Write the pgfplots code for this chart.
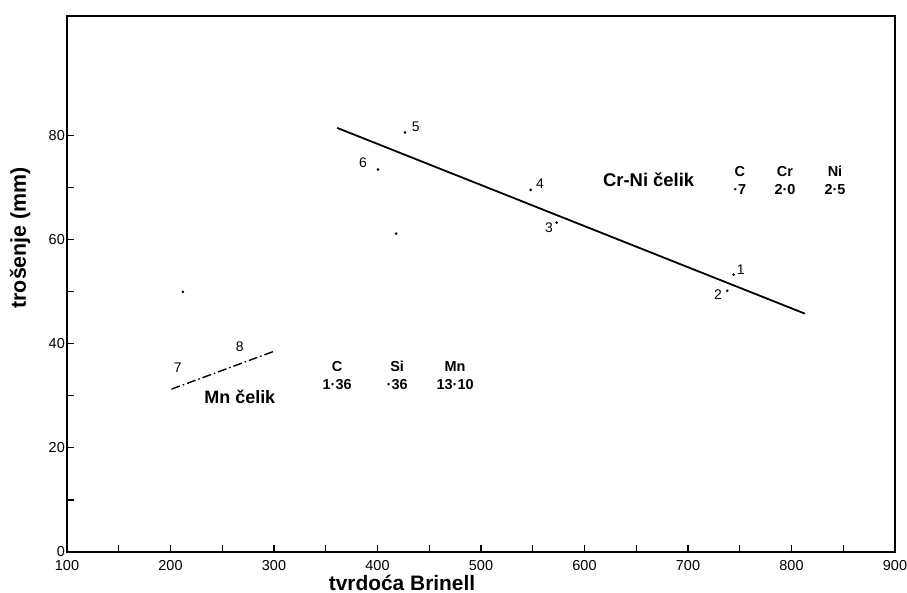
\documentclass[border=0pt]{standalone}
\usepackage{pgfplots}
\pgfplotsset{compat=1.18}
\usepackage{fontspec}
\setmainfont{Liberation Sans}

\begin{document}
\begin{tikzpicture}
\begin{axis}[
  scale only axis, width=828bp, height=536bp,
  xmin=100, xmax=900, ymin=0, ymax=103,
  xtick={100,200,...,900}, minor xtick={150,250,...,850},
  ytick={0,20,40,60,80}, minor ytick={10,30,50,70},
  tick align=inside, xtick pos=left, ytick pos=left,
  major tick length=7bp, minor tick length=7bp,
  axis line style={line width=1.8bp},
  every tick/.style={black, line width=1.1bp},
  tick label style={font=\fontsize{14.5}{14.5}\selectfont},
  /pgf/number format/assume math mode=true,
  /pgf/number format/1000 sep={},
  xticklabel style={inner sep=1bp, yshift=-7bp},
  yticklabel style={inner sep=2bp},
  clip=false,
]
% Cr-Ni celik: regression line and points
\addplot[black, line width=1.8bp] coordinates {(361,81.5) (813,45.8)};
% Mn celik
\addplot[black, line width=1.4bp, dash pattern=on 9bp off 3bp on 1.5bp off 3bp]
  coordinates {(201,31.3) (299,38.5)};
\addplot[only marks, mark=*, mark size=1.1bp, black] coordinates {
  (426.6,80.6) (400.5,73.5) (548,69.6) (573,63.3)
  (744,53.3) (738,50.2) (418,61.2) (212,50)
};

\begin{scope}[font=\fontsize{14}{14}\selectfont]
\node at (axis cs:437,81.7) {5};
\node at (axis cs:386,74.8) {6};
\node at (axis cs:557,70.8) {4};
\node at (axis cs:565.7,62.3) {3};
\node at (axis cs:751,54.2) {1};
\node at (axis cs:729,49.4) {2};
\node at (axis cs:207,35.4) {7};
\node at (axis cs:267,39.4) {8};
\end{scope}

\node[font=\bfseries\fontsize{18.5}{18.5}\selectfont] at (axis cs:662,71.5) {Cr-Ni čelik};
\node[font=\bfseries\fontsize{18}{18}\selectfont] at (axis cs:267,29.8) {Mn čelik};

\begin{scope}[font=\bfseries\fontsize{14.5}{14.5}\selectfont]
\node at (axis cs:750,73.1) {C};
\node at (axis cs:750,69.6) {·7};
\node at (axis cs:793.7,73.1) {Cr};
\node at (axis cs:793.7,69.6) {2·0};
\node at (axis cs:842,73.1) {Ni};
\node at (axis cs:842,69.6) {2·5};
\node at (axis cs:361,35.6) {C};
\node at (axis cs:361,32.1) {1·36};
\node at (axis cs:419,35.6) {Si};
\node at (axis cs:419,32.1) {·36};
\node at (axis cs:475,35.6) {Mn};
\node at (axis cs:475,32.1) {13·10};
\end{scope}

\node[font=\bfseries\fontsize{21.5}{21.5}\selectfont, rotate=90] at (axis cs:54.6,60.4) {trošenje (mm)};
\node[font=\bfseries\fontsize{21}{21}\selectfont] at (axis cs:423.7,-5.9) {tvrdoća Brinell};
\end{axis}
\pgfresetboundingbox
\path[use as bounding box] ([shift={(-67bp,-41bp)}]current axis.south west)
  rectangle ([shift={(12bp,16bp)}]current axis.north east);
\end{tikzpicture}
\end{document}
